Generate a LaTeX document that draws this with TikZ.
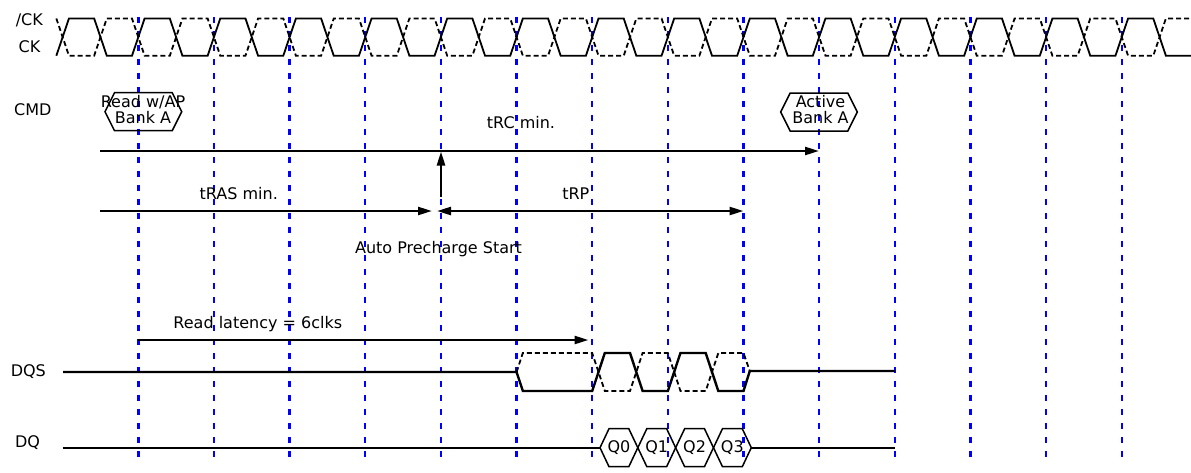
\documentclass[tikz,border=0pt]{standalone}
\usepackage{fontspec}
\setmainfont{DejaVu Sans}
\usepackage{tikz}
\usetikzlibrary{arrows.meta,positioning,calc}
\definecolor{gridblue}{RGB}{0,0,255}
\newcommand\clkX{138.3}
\newcommand\clkP{75.65}
\newcommand\clkH{37.825}
\newcommand\clkE{6.3}

\begin{document}
\begin{tikzpicture}[x=1pt,y=-1pt,every node/.style={font=\fontsize{16}{16}\selectfont,inner sep=0pt},
        sig/.style={line width=1.8pt},
        sigdash/.style={line width=1.8pt,dash pattern=on 5pt off 3pt},
        flat/.style={line width=2.4pt},
        hexline/.style={line width=1.5pt},
        grid/.style={gridblue,line width=2.4pt,dash pattern=on 6pt off 8pt},
        tarr/.style={line width=2.4pt,-{Triangle[length=14pt,width=8pt]}},
        tarrboth/.style={line width=2.4pt,{Triangle[length=14pt,width=8pt]}-{Triangle[length=14pt,width=8pt]}},
        lbl/.style={anchor=base},
        hexlbl/.style={align=center}]
      \useasboundingbox (0,0) rectangle (1191,472);
      \foreach \k in {0,...,13}{
        \draw[grid] ({\clkX+\k*\clkP},17) -- ({\clkX+\k*\clkP},463);
      }
      \node[lbl] (nck) at (29.3,25.7) {/CK};
      \node[lbl] (ck)  at (29.5,52.3) {CK};
      \node[lbl] (cmd) at (32.8,115.7) {CMD};
      \node[lbl] (dqs) at (28.3,376.5) {DQS};
      \node[lbl] (dq)  at (27.5,447.5) {DQ};
      \draw[sig] ({\clkX-\clkP-\clkE},55.7) \foreach \k in {-1,...,13}{
        -- ({\clkX+\k*\clkP+\clkE},18.5) -- ({\clkX+\k*\clkP+\clkH-\clkE},18.5)
        -- ({\clkX+\k*\clkP+\clkH+\clkE},55.7) -- ({\clkX+(\k+1)*\clkP-\clkE},55.7)};
      \draw[sigdash] ({\clkX-\clkP-\clkE},18.5) \foreach \k in {-1,...,13}{
        -- ({\clkX+\k*\clkP+\clkE},55.7) -- ({\clkX+\k*\clkP+\clkH-\clkE},55.7)
        -- ({\clkX+\k*\clkP+\clkH+\clkE},18.5) -- ({\clkX+(\k+1)*\clkP-\clkE},18.5)};
      \draw[hexline] (105,111.7) -- (114.5,92.7) -- (172.2,92.7) -- (181.7,111.7)
        -- (172.2,130.7) -- (114.5,130.7) -- cycle;
      \node[hexlbl] (rd) at (143,109.5) {Read w/AP\\Bank A};
      \draw[hexline] (780.7,112) -- (790.2,93) -- (847.8,93) -- (857.3,112)
        -- (847.8,131) -- (790.2,131) -- cycle;
      \node[hexlbl] (act) at (820.5,109.8) {Active\\Bank A};
      \coordinate (trcL) at (100,151);
      \coordinate (trcR) at (819,151);
      \coordinate (trasL) at (100,211);
      \coordinate (trasR) at (432,211);
      \coordinate (trpL) at (437,211);
      \coordinate (trpR) at (743.5,211);
      \coordinate (apS) at (441,197);
      \coordinate (apE) at (441,151.5);
      \coordinate (rlL) at (138.3,340);
      \coordinate (rlR) at (588.5,340);
      \draw[tarr] (trcL) -- (trcR);
      \draw[tarr] (trasL) -- (trasR);
      \draw[tarrboth] (trpL) -- (trpR);
      \draw[tarr] (apS) -- (apE);
      \draw[tarr] (rlL) -- (rlR);
      \node[lbl] (trc)  at (521,128.5) {tRC min.};
      \node[lbl] (tras) at (238.8,199.3) {tRAS min.};
      \node[lbl] (trp)  at (575.8,199.5) {tRP};
      \node[lbl] (apre) at (438.5,253) {Auto Precharge Start};
      \node[lbl] (rl)   at (257.8,328) {Read latency = 6clks};
      \draw[flat] (63,372) -- (516.55,372) -- (522.85,391) -- (592.2,391)
        -- (604.8,353) -- (630,353) -- (642.6,391) -- (667.85,391)
        -- (680.45,353) -- (705.7,353) -- (718.3,391) -- (743.5,391)
        -- (749.8,371) -- (894.8,371);
      \draw[sigdash] (516.55,372) -- (522.85,353) -- (592.2,353)
        -- (604.8,391) -- (630,391) -- (642.6,353) -- (667.85,353)
        -- (680.45,391) -- (705.7,391) -- (718.3,353) -- (743.5,353)
        -- (749.8,371);
      \draw[flat] (62.7,447.7) -- (600,447.7);
      \draw[flat] (751.3,447.7) -- (894.8,447.7);
      \foreach \q [count=\i from 0] in {Q0,Q1,Q2,Q3}{
        \draw[hexline] ({600+\i*\clkH},447.7) -- ({609+\i*\clkH},428.7)
          -- ({628.8+\i*\clkH},428.7) -- ({637.8+\i*\clkH},447.7)
          -- ({628.8+\i*\clkH},466.7) -- ({609+\i*\clkH},466.7) -- cycle;
        \node (q\i) at ({618.9+\i*\clkH},447.7) {\q};
      }
    \end{tikzpicture}
\end{document}
